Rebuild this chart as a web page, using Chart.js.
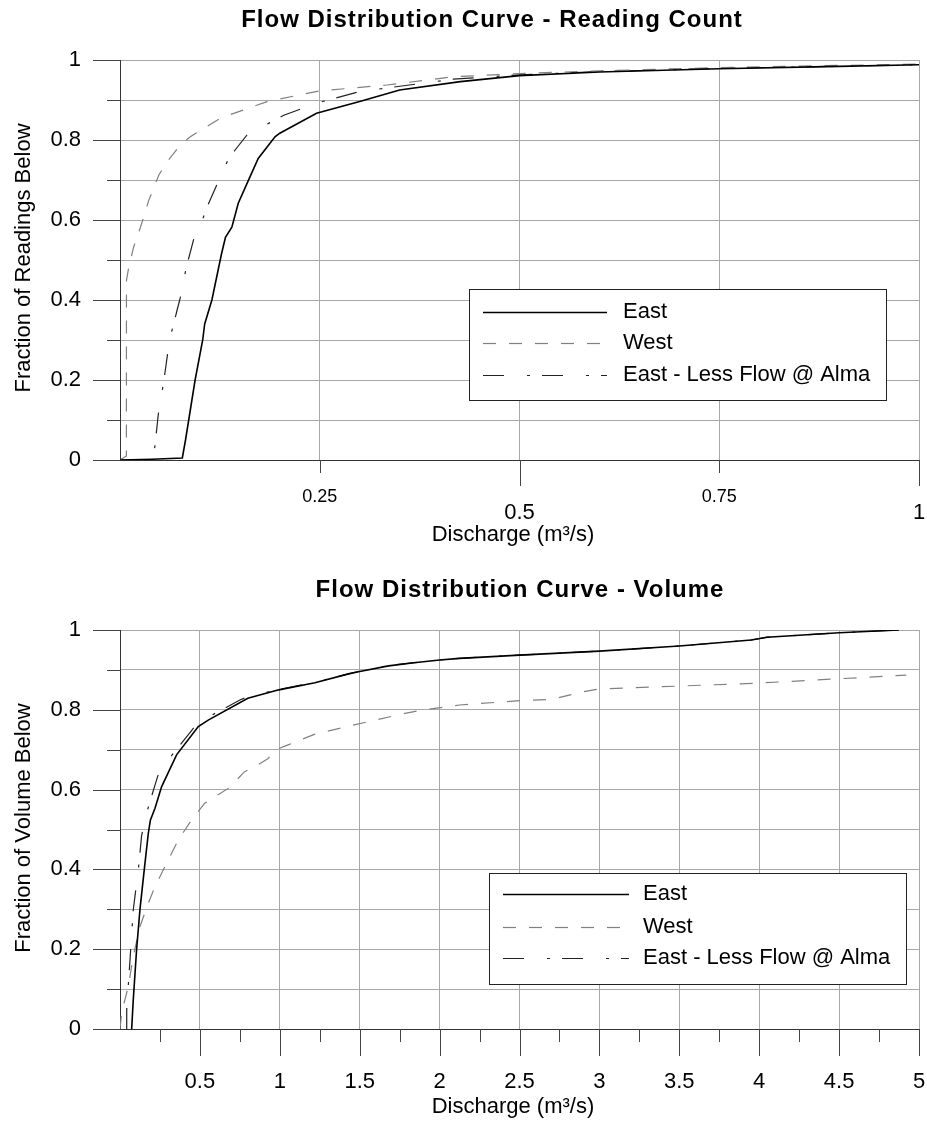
<!DOCTYPE html>
<html>
<head>
<meta charset="utf-8">
<script src="https://cdn.jsdelivr.net/npm/chart.js@4.4.1/dist/chart.umd.min.js"></script>
<style>
html,body{margin:0;padding:0;background:#fff;}
canvas{display:block;}
</style>
</head>
<body>
<canvas id="c1" width="927" height="560"></canvas>
<canvas id="c2" width="927" height="563"></canvas>
<script>
const FONT = '"Liberation Sans", Arial, Helvetica, sans-serif';

// ---------- Data ----------
const SERIES_NAMES = ['East', 'West', 'East - Less Flow @ Alma'];

// Chart 1: reading count
const countEastX = [0, 0.04, 0.078, 0.082, 0.086, 0.094, 0.1035, 0.106, 0.115, 0.127, 0.132, 0.14, 0.148, 0.16, 0.173, 0.194, 0.2, 0.246, 0.3, 0.35, 0.426, 0.5, 0.6, 0.75, 0.9, 1.0];
const countEastY = [0, 0.002, 0.005, 0.05, 0.1, 0.2, 0.3, 0.34, 0.4, 0.515, 0.557, 0.582, 0.642, 0.696, 0.754, 0.808, 0.817, 0.867, 0.896, 0.925, 0.946, 0.961, 0.97, 0.978, 0.984, 0.988];

const countWestX = [0, 0.008, 0.0081, 0.011, 0.017, 0.0256, 0.036, 0.0486, 0.059, 0.0756, 0.088, 0.126, 0.184, 0.249, 0.334, 0.417, 0.5, 0.6, 0.75, 1.0];
const countWestY = [0, 0.01, 0.449, 0.482, 0.532, 0.582, 0.649, 0.7125, 0.746, 0.7875, 0.808, 0.855, 0.896, 0.9225, 0.9375, 0.958, 0.966, 0.973, 0.981, 0.99];

const countLessX = [0, 0.04, 0.0435, 0.048, 0.055, 0.062, 0.0715, 0.0756, 0.083, 0.094, 0.103, 0.111, 0.123, 0.136, 0.146, 0.159, 0.205, 0.246, 0.3, 0.417, 0.5, 0.6, 0.75, 1.0];
const countLessY = [0, 0, 0.032, 0.115, 0.2, 0.3, 0.375, 0.407, 0.482, 0.565, 0.6, 0.642, 0.696, 0.754, 0.78, 0.8125, 0.862, 0.892, 0.921, 0.952, 0.963, 0.971, 0.979, 0.988];

// Chart 2: volume
const volEastX = [0.073, 0.083, 0.104, 0.125, 0.152, 0.177, 0.19, 0.219, 0.26, 0.354, 0.49, 0.552, 0.8, 0.994, 1.22, 1.43, 1.5, 1.68, 1.84, 2.0, 2.125, 2.5, 3.0, 3.5, 3.95, 4.05, 4.5, 4.875];
const volEastY = [0, 0.073, 0.2, 0.3, 0.4, 0.49, 0.523, 0.553, 0.607, 0.687, 0.758, 0.774, 0.829, 0.85, 0.868, 0.89, 0.896, 0.91, 0.918, 0.925, 0.929, 0.937, 0.947, 0.96, 0.975, 0.982, 0.993, 1.0];

const volWestX = [0, 0.01, 0.052, 0.083, 0.125, 0.177, 0.219, 0.281, 0.365, 0.448, 0.53, 0.594, 0.677, 0.78, 0.844, 0.927, 0.948, 0.969, 1.052, 1.22, 1.43, 1.76, 1.9, 2.125, 2.5, 2.7, 2.92, 3.0, 4.0, 4.92];
const volWestY = [0, 0.04, 0.107, 0.182, 0.257, 0.315, 0.357, 0.407, 0.474, 0.524, 0.566, 0.582, 0.603, 0.645, 0.657, 0.678, 0.687, 0.699, 0.712, 0.739, 0.759, 0.789, 0.8, 0.812, 0.823, 0.826, 0.847, 0.852, 0.867, 0.887];

const volLessX = [0.042, 0.042, 0.0625, 0.083, 0.115, 0.135, 0.156, 0.18, 0.237, 0.3, 0.464, 0.54, 0.614, 0.75, 0.8, 0.994, 1.22, 1.43, 1.5, 1.68, 1.84, 2.0, 2.125, 2.5, 3.0, 3.5, 3.95, 4.05, 4.5, 4.875];
const volLessY = [0, 0.048, 0.173, 0.299, 0.4, 0.484, 0.523, 0.56, 0.635, 0.674, 0.756, 0.779, 0.795, 0.8245, 0.833, 0.851, 0.869, 0.89, 0.897, 0.911, 0.918, 0.925, 0.929, 0.937, 0.947, 0.96, 0.975, 0.982, 0.993, 1.0];

// Tick labels
const yTickLabels = [0, 0.2, 0.4, 0.6, 0.8, 1];
const countXTickLabels = [0.25, 0.5, 0.75, 1];
const volXTickLabels = [0.5, 1, 1.5, 2, 2.5, 3, 3.5, 4, 4.5, 5];

// ---------- Styles ----------
const STYLES = [
  { color: '#000000', width: 1.6, dash: [] },
  { color: '#808080', width: 1.2, dash: [13, 13] },
  { color: '#222222', width: 1.2, dash: [21, 23, 3, 12] }
];
const GRID = '#a8a8a8';
const AXIS = '#333333';
const CLEAR = 'rgba(0,0,0,0)';

function pts(xs, ys) { return xs.map((x, i) => ({ x: x, y: ys[i] })); }
function near(a, b) { return Math.abs(a - b) < 1e-6; }
function isHalf(v) { return near(v * 2, Math.round(v * 2)); }
function tickVal(c) { return (c && c.tick) ? c.tick.value : null; }

function decoPlugin(cfg) {
  return {
    id: 'deco',
    afterDraw(chart) {
      const ctx = chart.ctx, xs = chart.scales.x, ys = chart.scales.y, ca = chart.chartArea;
      ctx.save();
      ctx.strokeStyle = '#444';
      ctx.lineWidth = 1;
      ctx.setLineDash([]);
      ctx.beginPath();
      ys.ticks.forEach(t => {
        const p = Math.round(ys.getPixelForValue(t.value)) + 0.5;
        const k = Math.round(t.value * 10);
        const len = k % 2 === 0 ? 27 : 13;
        ctx.moveTo(ca.left - len, p); ctx.lineTo(ca.left, p);
      });
      xs.ticks.forEach(t => {
        if (near(t.value, 0)) return;
        const p = Math.round(xs.getPixelForValue(t.value)) + 0.5;
        const len = isHalf(t.value) ? cfg.majorLen : 13;
        ctx.moveTo(p, ca.bottom); ctx.lineTo(p, ca.bottom + len);
      });
      ctx.stroke();

      ctx.fillStyle = '#000';
      ctx.textAlign = 'center';
      ctx.textBaseline = 'middle';
      ctx.font = 'bold 24px ' + FONT;
      try { ctx.letterSpacing = '1px'; } catch (e) {}
      ctx.fillText(cfg.title, cfg.titleX, cfg.titleY);
      try { ctx.letterSpacing = '0px'; } catch (e) {}

      ctx.font = '22px ' + FONT;
      ctx.fillText('Discharge (m³/s)', cfg.xTitleX, cfg.xTitleY);
      ctx.save();
      ctx.translate(24, cfg.yTitleY);
      ctx.rotate(-Math.PI / 2);
      ctx.fillText(cfg.yTitle, 0, 0);
      ctx.restore();

      const L = cfg.legend;
      ctx.fillStyle = '#fff';
      ctx.fillRect(L.x, L.y, L.w, L.h);
      ctx.strokeStyle = '#222';
      ctx.lineWidth = 1;
      ctx.strokeRect(L.x + 0.5, L.y + 0.5, L.w, L.h);
      chart.data.datasets.forEach((ds, i) => {
        const y = L.rows[i];
        ctx.beginPath();
        ctx.setLineDash(ds.borderDash || []);
        ctx.strokeStyle = ds.borderColor;
        ctx.lineWidth = ds.borderWidth;
        ctx.moveTo(L.x1, Math.round(y) + 0.5);
        ctx.lineTo(L.x2, Math.round(y) + 0.5);
        ctx.stroke();
        ctx.setLineDash([]);
        ctx.fillStyle = '#000';
        ctx.font = '22px ' + FONT;
        ctx.textAlign = 'left';
        ctx.textBaseline = 'middle';
        ctx.fillText(ds.label, L.textX, y);
      });
      ctx.restore();
    }
  };
}

function makeChart(id, cfg) {
  return new Chart(document.getElementById(id), {
    type: 'line',
    data: {
      datasets: cfg.series.map((s, i) => ({
        label: SERIES_NAMES[i],
        data: pts(s[0], s[1]),
        borderColor: STYLES[i].color,
        borderWidth: STYLES[i].width,
        borderDash: STYLES[i].dash,
        pointRadius: 0,
        pointHoverRadius: 0,
        fill: false,
        tension: 0,
        order: i
      }))
    },
    options: {
      responsive: false,
      animation: false,
      devicePixelRatio: 1,
      layout: { padding: { left: 0, right: 8, top: cfg.top, bottom: 0 } },
      plugins: { legend: { display: false }, title: { display: false }, tooltip: { enabled: false } },
      scales: {
        x: {
          type: 'linear', min: 0, max: cfg.xMax,
          afterFit(s) { s.height = cfg.xHeight; s.paddingLeft = 0; s.paddingRight = 0; },
          ticks: {
            stepSize: 0.25, autoSkip: false, maxRotation: 0, minRotation: 0,
            padding: cfg.xPad, color: '#000',
            font: cfg.xFont,
            callback: cfg.xLabel
          },
          grid: { drawTicks: false, lineWidth: 1, color: cfg.xGrid },
          border: { display: true, color: AXIS, width: 1 }
        },
        y: {
          type: 'linear', min: 0, max: 1,
          afterFit(s) { s.width = 120; s.paddingTop = 0; s.paddingBottom = 0; },
          ticks: {
            stepSize: 0.1, autoSkip: false, padding: 39, color: '#000',
            font: { size: 22, family: FONT },
            callback: v => { const m = yTickLabels.find(t => near(t, v)); return m === undefined ? '' : String(m); }
          },
          grid: { drawTicks: false, lineWidth: 1, color: c => { const v = tickVal(c); return (v === null || near(v, 0)) ? CLEAR : GRID; } },
          border: { display: true, color: AXIS, width: 1 }
        }
      }
    },
    plugins: [decoPlugin(cfg)]
  });
}

makeChart('c1', {
  series: [[countEastX, countEastY], [countWestX, countWestY], [countLessX, countLessY]],
  top: 60, xHeight: 100, xMax: 1, xPad: 26, majorLen: 26,
  xFont: c => { const v = tickVal(c); return (v === null || isHalf(v)) ? { size: 22, family: FONT, lineHeight: 0.83 } : { size: 18, family: FONT, lineHeight: 1.2 }; },
  xLabel: v => {
    const m = countXTickLabels.find(t => near(t, v));
    if (m === undefined) return '';
    return isHalf(m) ? ['', String(m)] : String(m);
  },
  xGrid: c => { const v = tickVal(c); return (v === null || near(v, 0)) ? CLEAR : GRID; },
  title: 'Flow Distribution Curve - Reading Count', titleX: 492, titleY: 20,
  xTitleX: 513, xTitleY: 535,
  yTitle: 'Fraction of Readings Below', yTitleY: 258,
  legend: { x: 469, y: 289, w: 417, h: 111, x1: 483, x2: 607, textX: 623, rows: [312, 343, 375] }
});

makeChart('c2', {
  series: [[volEastX, volEastY], [volWestX, volWestY], [volLessX, volLessY]],
  top: 70, xHeight: 94, xMax: 5, xPad: 40, majorLen: 27,
  xFont: { size: 22, family: FONT, lineHeight: 1.2 },
  xLabel: v => { const m = volXTickLabels.find(t => near(t, v)); return m === undefined ? '' : String(m); },
  xGrid: c => { const v = tickVal(c); return (v === null || near(v, 0) || !isHalf(v)) ? CLEAR : GRID; },
  title: 'Flow Distribution Curve - Volume', titleX: 520, titleY: 30.5,
  xTitleX: 513, xTitleY: 546.7,
  yTitle: 'Fraction of Volume Below', yTitleY: 268,
  legend: { x: 489, y: 313, w: 417, h: 111, x1: 503, x2: 629, textX: 643, rows: [334, 366.5, 398] }
});
</script>
</body>
</html>
